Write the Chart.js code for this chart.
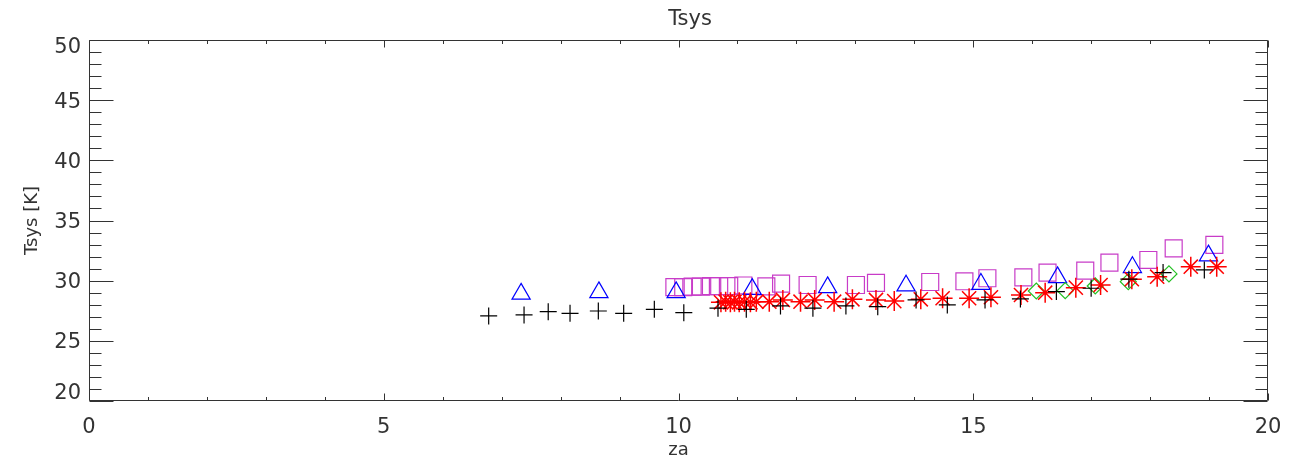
<!DOCTYPE html>
<html>
<head>
<meta charset="utf-8">
<script src="https://cdn.jsdelivr.net/npm/chart.js@4.4.1/dist/chart.umd.min.js"></script>
<style>
  html, body { margin: 0; padding: 0; background: #ffffff; }
  #wrap { width: 1303px; height: 472px; position: relative; }
</style>
</head>
<body>
<div id="wrap"><canvas id="c" width="1303" height="472"></canvas></div>
<script>
// ---- data ----
const titleText = 'Tsys';
const xTitle = 'za';
const yTitle = 'Tsys [K]';
const xTickValues = [0, 5, 10, 15, 20];
const yTickValues = [20, 25, 30, 35, 40, 45, 50];

const plusZa = [6.78, 7.38, 7.79, 8.16, 8.64, 9.07, 9.59, 10.09, 10.67, 11.15, 11.73, 12.28, 12.84, 13.38, 14.03, 14.56, 15.20, 15.80, 16.41, 17.00, 17.64, 18.22, 18.92];
const plusT  = [27.07, 27.15, 27.42, 27.29, 27.48, 27.29, 27.62, 27.34, 27.71, 27.62, 27.90, 27.71, 27.90, 27.84, 28.40, 27.98, 28.40, 28.48, 29.09, 29.37, 30.12, 30.67, 30.89];

const starZa = [10.72, 10.80, 10.88, 10.95, 11.03, 11.12, 11.22, 11.32, 11.54, 11.77, 12.07, 12.31, 12.64, 12.95, 13.35, 13.66, 14.11, 14.48, 14.93, 15.30, 15.81, 16.22, 16.74, 17.16, 17.69, 18.12, 18.69, 19.13];
const starT  = [28.20, 28.25, 28.20, 28.25, 28.20, 28.25, 28.20, 28.25, 28.25, 28.40, 28.25, 28.40, 28.25, 28.45, 28.40, 28.30, 28.45, 28.54, 28.54, 28.62, 28.81, 29.00, 29.42, 29.64, 30.12, 30.33, 31.16, 31.16];

const diamZa = [16.07, 16.56, 17.07, 17.63, 18.32];
const diamT  = [29.14, 29.17, 29.56, 29.92, 30.56];

const triZa = [7.33, 8.65, 9.96, 11.25, 12.53, 13.86, 15.13, 16.43, 17.70, 18.99];
const triT  = [28.90, 29.03, 29.03, 29.30, 29.44, 29.58, 29.72, 30.27, 31.11, 32.08];

const sqZa = [9.93, 10.08, 10.24, 10.38, 10.55, 10.69, 10.86, 11.10, 11.49, 11.74, 12.19, 13.01, 13.35, 14.27, 14.85, 15.24, 15.85, 16.26, 16.90, 17.31, 17.97, 18.40, 19.09];
const sqT  = [29.46, 29.46, 29.50, 29.50, 29.55, 29.55, 29.55, 29.60, 29.53, 29.75, 29.64, 29.64, 29.81, 29.89, 29.95, 30.20, 30.28, 30.67, 30.83, 31.50, 31.72, 32.69, 32.97];

function pts(xs, ys) { return xs.map((v, i) => ({ x: v, y: ys[i] })); }

// ---- frame with inward ticks on all four sides (IDL style) ----
const framePlugin = {
  id: 'frame',
  afterLayout(chart) {
    const tb = chart.titleBlock;
    if (tb) { const c = 690; tb.left = c - 120; tb.right = c + 120; tb.width = 240; }
  },
  beforeDraw(chart) {
    // IDL keeps the end labels of the y axis inside the axis range
    const s = chart.scales.y;
    const items = s.getLabelItems(chart.chartArea);
    if (items && items.length) {
      items[0].options.translation[1] -= 9;
      items[items.length - 1].options.translation[1] += 6;
    }
  },
  afterDatasetsDraw(chart) {
    const { ctx, chartArea: a, scales: { x, y } } = chart;
    ctx.save();
    ctx.strokeStyle = '#333';
    ctx.lineWidth = 1;
    ctx.beginPath();
    const L = Math.round(a.left) + 0.5, R = Math.round(a.right) - 0.5;
    const T = Math.round(a.top) + 0.5, B = Math.round(a.bottom) - 0.5;
    ctx.rect(L, T, R - L, B - T);
    for (let v = xTickValues[0]; v <= xTickValues[xTickValues.length - 1] + 1e-9; v += 1) {
      const px = Math.round(x.getPixelForValue(v)) + 0.5;
      const len = xTickValues.includes(v) ? 7 : 3.5;
      ctx.moveTo(px, B); ctx.lineTo(px, B - len);
      ctx.moveTo(px, T); ctx.lineTo(px, T + len);
    }
    for (let v = yTickValues[0]; v <= yTickValues[yTickValues.length - 1] + 1e-9; v += 1) {
      const py = Math.round(y.getPixelForValue(v)) + 0.5;
      const len = yTickValues.includes(v) ? 24 : 12;
      ctx.moveTo(L, py); ctx.lineTo(L + len, py);
      ctx.moveTo(R, py); ctx.lineTo(R - len, py);
    }
    ctx.stroke();
    ctx.restore();
  }
};

Chart.defaults.font.family = "'DejaVu Sans', 'Liberation Sans', sans-serif";
Chart.defaults.color = '#333';

new Chart(document.getElementById('c'), {
  type: 'scatter',
  data: {
    datasets: [
      { label: 'plus', data: pts(plusZa, plusT), pointStyle: 'cross', pointRadius: 8.5, pointHoverRadius: 8.5,
        borderColor: '#000000', pointBorderColor: '#000000', backgroundColor: 'transparent', pointBorderWidth: 1.2 },
      { label: 'star', data: pts(starZa, starT), pointStyle: 'star', pointRadius: 10, pointHoverRadius: 10,
        borderColor: '#ff0000', pointBorderColor: '#ff0000', backgroundColor: 'transparent', pointBorderWidth: 1.5 },
      { label: 'diamond', data: pts(diamZa, diamT), pointStyle: 'rectRot', pointRadius: 8, pointHoverRadius: 8,
        borderColor: '#22c022', pointBorderColor: '#22c022', backgroundColor: 'transparent', pointBackgroundColor: 'transparent', pointBorderWidth: 1.2 },
      { label: 'triangle', data: pts(triZa, triT), pointStyle: 'triangle', pointRadius: 10.5, pointHoverRadius: 10.5,
        borderColor: '#0000ff', pointBorderColor: '#0000ff', backgroundColor: 'transparent', pointBackgroundColor: 'transparent', pointBorderWidth: 1.2 },
      { label: 'square', data: pts(sqZa, sqT), pointStyle: 'rect', pointRadius: 12, pointHoverRadius: 12,
        borderColor: '#c83cc8', pointBorderColor: '#c83cc8', backgroundColor: 'transparent', pointBackgroundColor: 'transparent', pointBorderWidth: 1.2 }
    ]
  },
  options: {
    responsive: false,
    animation: false,
    events: [],
    layout: { padding: { left: 0, right: 35, top: 0, bottom: 0 } },
    plugins: {
      legend: { display: false },
      tooltip: { enabled: false },
      title: {
        display: true, text: titleText, color: '#333',
        font: { size: 21, weight: 'normal' },
        padding: { top: 7, bottom: 7.8 }
      }
    },
    scales: {
      x: {
        type: 'linear', min: 0, max: 20,
        afterFit: (s) => { s.height = 71; },
        afterBuildTicks: (s) => { s.ticks = xTickValues.map(v => ({ value: v })); },
        grid: { display: false, drawTicks: false },
        border: { display: false },
        ticks: { font: { size: 21 }, color: '#333', padding: 14, maxRotation: 0, autoSkip: false },
        title: { display: true, text: xTitle, color: '#333', font: { size: 18 }, padding: { top: 0, bottom: 11 } }
      },
      y: {
        type: 'linear', min: 20, max: 50,
        afterFit: (s) => { s.width = 89; },
        afterBuildTicks: (s) => { s.ticks = yTickValues.map(v => ({ value: v })); },
        grid: { display: false, drawTicks: false },
        border: { display: false },
        ticks: { font: { size: 21 }, color: '#333', padding: 8, labelOffset: 2, autoSkip: false },
        title: { display: true, text: yTitle, color: '#333', font: { size: 18 }, padding: { top: 22, bottom: 0 } }
      }
    }
  },
  plugins: [framePlugin]
});
</script>
</body>
</html>
